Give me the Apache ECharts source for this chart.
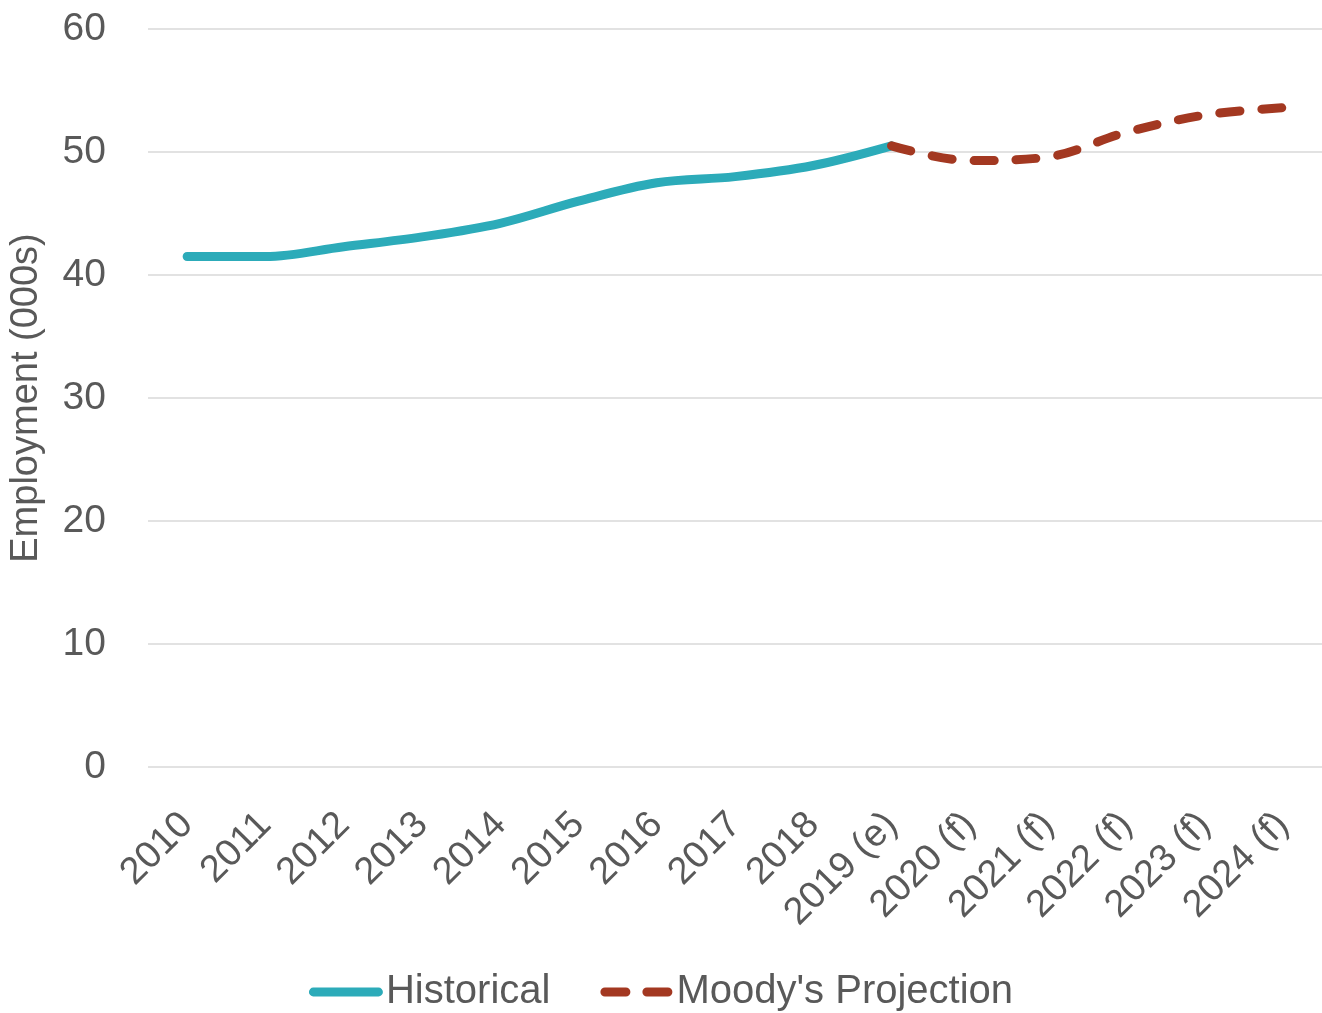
<!DOCTYPE html>
<html>
<head>
<meta charset="utf-8">
<script src="https://cdn.jsdelivr.net/npm/echarts@6/dist/echarts.min.js"></script>
<style>
  html, body { margin: 0; padding: 0; background: #fff; }
  #chart { width: 1322px; height: 1013px; }
</style>
</head>
<body>
<div id="chart"></div>
<script>
// Employment, thousands of jobs
const years = ['2010', '2011', '2012', '2013', '2014', '2015', '2016', '2017', '2018',
  '2019 (e)', '2020 (f)', '2021 (f)', '2022 (f)', '2023 (f)', '2024 (f)'];
const historical = [41.5, 41.5, 42.3, 43.1, 44.2, 46.0, 47.5, 48.0, 48.9, 50.5,
  null, null, null, null, null];
const projection = [null, null, null, null, null, null, null, null, null, 50.5,
  49.3, 49.6, 51.6, 53.0, 53.6];
const yTicks = { min: 0, max: 60, interval: 10 };

const FONT = '"Liberation Sans Narrow", "Arial Narrow", "Liberation Sans", sans-serif';
const TEXT = '#595959';
const TEAL = '#2cabb9';
const RUST = '#a33821';

// legend keys: a solid bar and a pair of rounded dashes, 72 x 9
const solidKey = 'path://M4.5,0 H71.5 A4.5,4.5 0 0 1 71.5,9 H4.5 A4.5,4.5 0 0 1 4.5,0 Z';
const dashKey = 'path://M4.5,0 H25.5 A4.5,4.5 0 0 1 25.5,9 H4.5 A4.5,4.5 0 0 1 4.5,0 Z ' +
  'M46.5,0 H67.5 A4.5,4.5 0 0 1 67.5,9 H46.5 A4.5,4.5 0 0 1 46.5,0 Z';

const chart = echarts.init(document.getElementById('chart'));
chart.setOption({
  animation: false,
  textStyle: { fontFamily: FONT },
  grid: { left: 147, top: 29, width: 1177, height: 738, containLabel: false },
  legend: {
    bottom: -4,
    left: 'center',
    itemWidth: 74,
    itemHeight: 9,
    itemGap: 50,
    textStyle: { fontFamily: FONT, fontSize: 40, color: TEXT, padding: [0, 0, 0, -2] },
    data: [
      { name: 'Historical', icon: solidKey, itemStyle: { color: TEAL } },
      { name: "Moody's Projection", icon: dashKey, itemStyle: { color: RUST } }
    ]
  },
  xAxis: {
    type: 'category',
    data: years,
    boundaryGap: true,
    axisLine: { show: false },
    axisTick: { show: false },
    axisLabel: {
      rotate: 45,
      margin: 52,
      interval: 0,
      fontFamily: FONT,
      fontSize: 38,
      color: TEXT
    }
  },
  yAxis: {
    type: 'value',
    min: yTicks.min,
    max: yTicks.max,
    interval: yTicks.interval,
    name: 'Employment (000s)',
    nameLocation: 'middle',
    nameGap: 102,
    nameTextStyle: { fontFamily: FONT, fontSize: 38, color: TEXT },
    axisLine: { show: false },
    axisTick: { show: false },
    axisLabel: { margin: 42, fontFamily: FONT, fontSize: 39, color: TEXT },
    splitLine: { lineStyle: { color: '#d9d9d9', width: 1.5 } }
  },
  series: [
    {
      name: 'Historical',
      type: 'line',
      data: historical,
      smooth: 0.35,
      symbol: 'none',
      color: TEAL,
      lineStyle: { color: TEAL, width: 9, cap: 'round', join: 'round' }
    },
    {
      name: "Moody's Projection",
      type: 'line',
      data: projection,
      smooth: 0.35,
      symbol: 'none',
      color: RUST,
      lineStyle: { color: RUST, width: 9, type: [20, 22], cap: 'round', join: 'round' }
    }
  ]
});
</script>
</body>
</html>
